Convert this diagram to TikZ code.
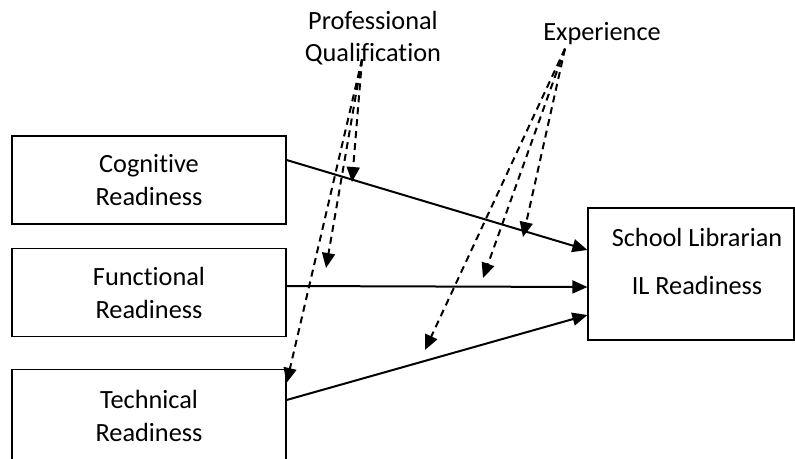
\documentclass[tikz,border=0pt]{standalone}
\usepackage{fontspec}
\setmainfont{Carlito}[Ligatures=NoCommon]
\usetikzlibrary{arrows.meta}

\begin{document}
\begin{tikzpicture}[x=1pt, y=-1pt, node distance=112.5pt,
  every node/.style={font=\fontsize{26.3}{33}\selectfont},
  box/.style={draw, line width=1.2pt, align=center, minimum width=274pt, minimum height=88pt},
  effect/.style={-{Triangle[length=15pt,width=13pt]}, line width=2pt},
  moder/.style={-{Triangle[length=15pt,width=13pt]}, line width=2pt, dash pattern=on 7pt off 5pt}]
  \useasboundingbox (0,0) rectangle (795,458);
  \node(cog)[box] at (149,180) {Cognitive\\Readiness};
  \node(fun)[box, below of=cog] {Functional\\Readiness};
  \node(tec)[box, below of=fun, node distance=123.5pt, minimum height=93pt] {Technical\\Readiness};
  \node(lib)[box, minimum width=206pt, minimum height=132pt] at (691,274) {};
  \node(libtxt)[align=center] at ([xshift=6pt,yshift=13pt]lib.center) {School Librarian\\[15pt]IL Readiness};
  \node(prof)[align=center, font=\fontsize{26.3}{32}\selectfont] at (373,38) {Professional\\Qualification};
  \node(exp) at (602,34) {Experience};
  % moderator end points
  \coordinate (pq1) at (352,182);
  \coordinate (pq2) at (326,268);
  \coordinate (ex1) at (523,237);
  \coordinate (ex2) at (483,278);
  \coordinate (ex3) at (425,350);
  \draw[effect] ([yshift=20pt]cog.east) -- ([yshift=24pt]lib.west);
  \draw[effect] ([yshift=6.5pt]fun.east) -- ([yshift=-13pt]lib.west);
  \draw[effect] ([yshift=16pt]tec.east) -- ([yshift=-41pt]lib.west);
  \draw[moder] ([xshift=-11pt,yshift=9pt]prof.south) -- (pq1);
  \draw[moder] ([xshift=-11pt,yshift=9pt]prof.south) -- (pq2);
  \draw[moder] ([xshift=-11pt,yshift=9pt]prof.south) -- ([yshift=-14pt]tec.north east);
  \draw[moder] ([xshift=-37pt,yshift=0pt]exp.south) -- (ex1);
  \draw[moder] ([xshift=-37pt,yshift=0pt]exp.south) -- (ex2);
  \draw[moder] ([xshift=-37pt,yshift=0pt]exp.south) -- (ex3);
\end{tikzpicture}
\end{document}
